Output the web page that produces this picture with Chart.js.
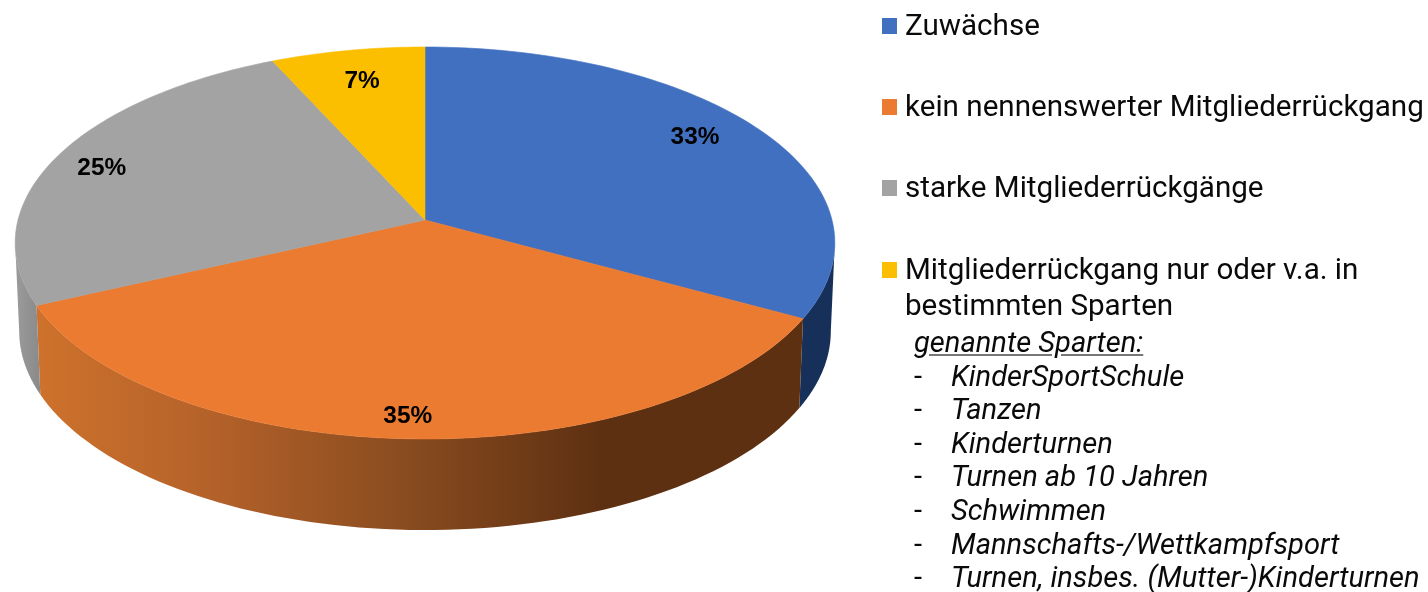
<!DOCTYPE html>
<html>
<head>
<meta charset="utf-8">
<title>Mitgliederentwicklung</title>
<script src="https://cdn.jsdelivr.net/npm/chart.js@4/dist/chart.umd.min.js"></script>
<style>
html, body { margin: 0; padding: 0; background: #fff; }
#wrap { position: relative; width: 1428px; height: 592px; overflow: hidden; }
#legend { position: absolute; left: 882px; top: 7px; font-family: Roboto, sans-serif; font-size: 29.6px; color: #0a0a0a; }
.item { position: relative; height: 81.2px; line-height: 36px; padding-left: 23px; white-space: nowrap; }
.item i { position: absolute; left: 0; top: 11px; width: 15px; height: 16px; }
#sparten { position: absolute; left: 914px; top: 326px; font-family: Roboto, sans-serif; font-size: 29.1px; font-style: italic; line-height: 33.6px; color: #0a0a0a; white-space: nowrap; }
#sparten .head { text-decoration: underline; text-decoration-color: #777; }
#sparten .row span { display: inline-block; width: 37px; font-style: normal; }
</style>
</head>
<body>
<div id="wrap">
	<canvas id="pie" width="1428" height="592"></canvas>
	<div id="legend"></div>
	<div id="sparten"></div>
</div>
<script>
var categories = ['Zuwächse', 'kein nennenswerter Mitgliederrückgang', 'starke Mitgliederrückgänge', 'Mitgliederrückgang nur oder v.a. in<br>bestimmten Sparten'];
var shares = [33, 35.1, 25.1, 6.8];
var sliceColors = ['#4270C1', '#EB7B30', '#A3A3A3', '#FCBF00'];
var spartenHead = 'genannte Sparten:';
var sparten = ['KinderSportSchule', 'Tanzen', 'Kinderturnen', 'Turnen ab 10 Jahren', 'Schwimmen', 'Mannschafts-/Wettkampfsport', 'Turnen, insbes. (Mutter-)Kinderturnen'];

// label placement along each slice (share of radius, small turn in radians)
var labelRadius = [0.835, 0.9, 0.872, 0.81];
var labelTurn = [-0.05, 0.01, -0.02, 0];

// tilt of the pie: top face and bottom rim, in units of the chart's radius
var tilt = 0.1173;
var top3d = { rx: 407 / 220, ry: 193.3 / 220, dy: 0 };
var bottom3d = { rx: 403 / 220, ry: 196 / 220, dy: 88 / 220 };

function project(arc, angle, face, r) {
	var u = Math.cos(angle) * r, v = Math.sin(angle) * r;
	var w = 1 - tilt * v;
	return {
		x: arc.x + arc.outerRadius * face.rx * u / w,
		y: arc.y + arc.outerRadius * (face.dy + face.ry * v / w)
	};
}

function wallFill(ctx, i) {
	var g;
	if (i == 1) {
		g = ctx.createLinearGradient(36, 0, 600, 0);
		g.addColorStop(0, '#CE722C');
		g.addColorStop(0.3, '#B5622A');
		g.addColorStop(0.65, '#8A4C1F');
		g.addColorStop(1, '#5E3012');
		return g;
	}
	if (i == 2) {
		g = ctx.createLinearGradient(14, 0, 40, 0);
		g.addColorStop(0, '#9C9C9C');
		g.addColorStop(1, '#8A8A8A');
		return g;
	}
	return i == 0 ? '#17305A' : '#7F6000';
}

var tiltedPie = {
	id: 'tiltedPie',
	beforeDatasetsDraw: function (chart) {
		var ctx = chart.ctx;
		var arcs = chart.getDatasetMeta(0).data;
		var steps = 80;
		// the rim is widest here, walls start and end at this angle
		var edge = Math.asin(tilt);

		// side walls, only the front of the pie
		arcs.forEach(function (arc, i) {
			var from = Math.max(arc.startAngle, edge);
			var to = Math.min(arc.endAngle, Math.PI - edge);
			if (to <= from) return;
			ctx.beginPath();
			for (var s = 0; s <= steps; s++) {
				var p = project(arc, from + (to - from) * s / steps, top3d, 1);
				ctx.lineTo(p.x, p.y);
			}
			for (s = steps; s >= 0; s--) {
				p = project(arc, from + (to - from) * s / steps, bottom3d, 1);
				ctx.lineTo(p.x, p.y);
			}
			ctx.closePath();
			ctx.fillStyle = wallFill(ctx, i);
			ctx.fill();
		});

		// top faces
		arcs.forEach(function (arc, i) {
			ctx.beginPath();
			var c = project(arc, 0, top3d, 0);
			ctx.moveTo(c.x, c.y);
			for (var s = 0; s <= steps; s++) {
				var p = project(arc, arc.startAngle + (arc.endAngle - arc.startAngle) * s / steps, top3d, 1);
				ctx.lineTo(p.x, p.y);
			}
			ctx.closePath();
			ctx.fillStyle = arc.options.backgroundColor;
			ctx.strokeStyle = arc.options.backgroundColor;
			ctx.lineWidth = 0.6;
			ctx.fill();
			ctx.stroke();
		});

		// value labels
		ctx.font = 'bold 24.4px "Liberation Sans", Arial, sans-serif';
		ctx.fillStyle = '#000';
		ctx.textAlign = 'center';
		ctx.textBaseline = 'middle';
		arcs.forEach(function (arc, i) {
			var mid = (arc.startAngle + arc.endAngle) / 2 + labelTurn[i];
			var p = project(arc, mid, top3d, labelRadius[i]);
			ctx.fillText(Math.round(shares[i]) + '%', p.x + 1, p.y + 1.5);
		});
		return false;
	}
};

new Chart(document.getElementById('pie'), {
	type: 'pie',
	data: {
		labels: categories,
		datasets: [{ data: shares, backgroundColor: sliceColors, borderWidth: 0 }]
	},
	options: {
		responsive: false,
		animation: false,
		events: [],
		layout: { padding: { right: 578, bottom: 152 } },
		plugins: { legend: { display: false }, tooltip: { enabled: false } }
	},
	plugins: [tiltedPie]
});

var legendHtml = '';
for (var i = 0; i < categories.length; i++) {
	legendHtml += '<div class="item"><i style="background:' + sliceColors[i] + '"></i>' + categories[i] + '</div>';
}
document.getElementById('legend').innerHTML = legendHtml;

var spartenHtml = '<div class="head">' + spartenHead + '</div>';
for (var j = 0; j < sparten.length; j++) {
	spartenHtml += '<div class="row"><span>-</span>' + sparten[j] + '</div>';
}
document.getElementById('sparten').innerHTML = spartenHtml;
</script>
</body>
</html>
